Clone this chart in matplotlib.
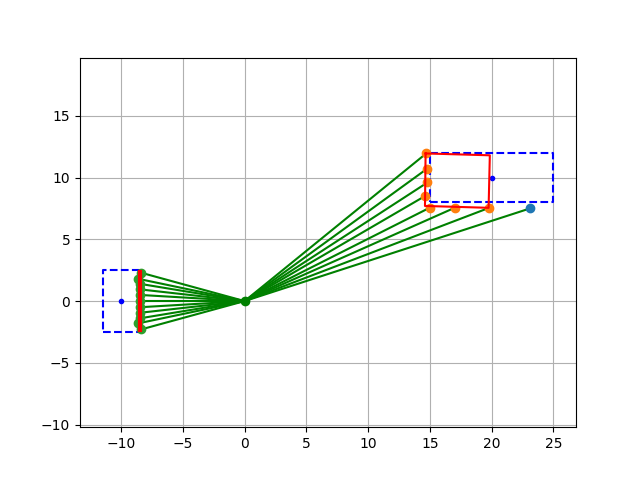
import matplotlib
matplotlib.use("Agg")
import matplotlib.pyplot as plt

# left box (sensor region)
left_box_x = [-11.5, -8.5, -8.5, -11.5, -11.5]
left_box_y = [-2.5, -2.5, 2.5, 2.5, -2.5]
left_center = (-10, 0)

# right box (target region)
right_box_x = [15, 25, 25, 15, 15]
right_box_y = [8, 8, 12, 12, 8]
right_center = (20, 10)

# left image points
left_x = [-8.4, -8.6, -8.5, -8.5, -8.5, -8.5, -8.5, -8.5, -8.5, -8.6, -8.4]
left_y = [2.3, 1.8, 1.4, 0.95, 0.5, 0.0, -0.5, -0.95, -1.4, -1.8, -2.3]

# left red segment
left_seg_x = [-8.5, -8.5]
left_seg_y = [2.35, -2.35]

# right points (orange) and extra point (blue)
right_x = [14.7, 14.75, 14.8, 14.6, 14.97, 17.0, 19.8]
right_y = [11.95, 10.7, 9.6, 8.5, 7.55, 7.55, 7.55]
extra_x = [23.1]
extra_y = [7.5]

# red quadrilateral
poly_x = [14.65, 19.85, 19.75, 14.6, 14.65]
poly_y = [11.95, 11.8, 7.55, 7.7, 11.95]

origin = (0, 0)

fig, ax = plt.subplots(figsize=(6.4, 4.8), dpi=100)

ax.plot(left_box_x, left_box_y, 'b--')
ax.plot(*left_center, 'b.')
ax.plot(right_box_x, right_box_y, 'b--')
ax.plot(*right_center, 'b.')

for x, y in zip(left_x, left_y):
    ax.plot([x, origin[0]], [y, origin[1]], 'g-')
for x, y in zip(right_x + extra_x, right_y + extra_y):
    ax.plot([origin[0], x], [origin[1], y], 'g-')

ax.plot(*origin, 'go')
ax.scatter(left_x, left_y, color='C2', zorder=3)
ax.scatter(extra_x, extra_y, color='C0', zorder=3)
ax.scatter(right_x, right_y, color='C1', zorder=3)

ax.plot(left_seg_x, left_seg_y, 'r-', linewidth=3, zorder=4)
ax.plot(poly_x, poly_y, 'r-', zorder=4)

ax.axis('equal')
ax.grid(True)

fig.savefig("out.png")
